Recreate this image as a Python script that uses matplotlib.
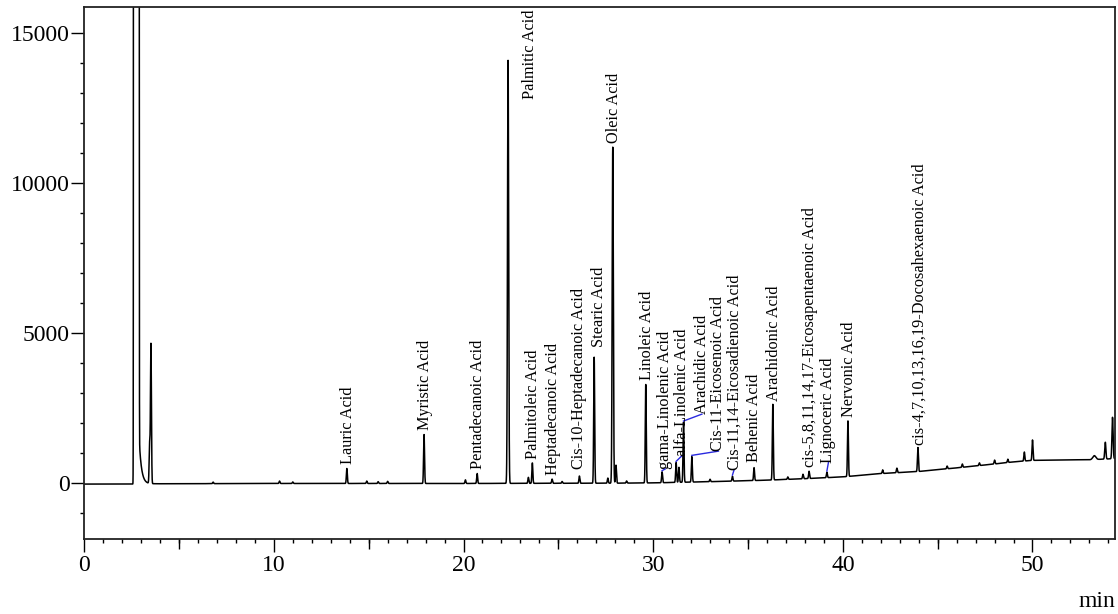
import numpy as np
import matplotlib.pyplot as plt
from matplotlib.ticker import MultipleLocator

plt.rcParams['font.family'] = 'Liberation Serif'

# identified FAME peaks: retention time (min) and height above baseline
names = ['Lauric Acid', 'Myristic Acid', 'Pentadecanoic Acid', 'Palmitic Acid',
         'Palmitoleic Acid', 'Heptadecanoic Acid', 'Cis-10-Heptadecanoic Acid',
         'Stearic Acid', 'Oleic Acid', 'Linoleic Acid', 'gama-Linolenic Acid',
         'alfa-Linolenic Acid', 'Arachidic Acid', 'Cis-11-Eicosenoic Acid',
         'Cis-11,14-Eicosadienoic Acid', 'Behenic Acid', 'Arachidonic Acid',
         'cis-5,8,11,14,17-Eicosapentaenoic Acid', 'Lignoceric Acid',
         'Nervonic Acid', 'cis-4,7,10,13,16,19-Docosahexaenoic Acid']
rt = [13.85, 17.92, 20.72, 22.35, 23.63, 24.67, 26.11, 26.89, 27.87, 29.61, 30.47,
      31.21, 31.60, 32.04, 34.18, 35.32, 36.31, 38.22, 39.16, 40.27, 43.96]
height = [500, 1630, 330, 14100, 680, 140, 240, 4200, 11200, 3280, 360,
          660, 2000, 850, 160, 430, 2520, 240, 180, 1850, 800]

# unlabelled peaks (solvent side peaks, impurities, column bleed)
other_rt = [3.45, 3.52, 6.8, 10.3, 11.0, 14.9, 15.5, 16.0, 20.1, 23.42, 25.2,
            27.61, 28.04, 28.6, 31.36, 33.0, 37.1, 37.9, 42.1, 42.85, 45.5,
            46.3, 47.2, 48.0, 48.7, 49.57, 50.0, 53.26, 53.84, 54.22]
other_h = [1300, 4650, 50, 80, 50, 80, 60, 70, 120, 200, 60,
           170, 600, 70, 500, 80, 80, 150, 120, 150, 90,
           110, 90, 130, 110, 300, 680, 130, 560, 1380]
other_w = [0.025] * 27 + [0.08, 0.03, 0.03]

# solvent front (off scale) and its tail
solvent_rt, solvent_h, solvent_w = 2.75, 1e12, 0.026
tail_start, tail_h, tail_tau = 2.9, 1500, 0.12

# drifting baseline
base_t = [0, 2.5, 3.6, 10, 20, 28, 30, 33, 36, 38, 40, 42, 44, 46, 48, 49, 50, 52, 53, 54.4]
base_y = [-20, -20, -10, 0, 0, 10, 20, 60, 110, 160, 220, 330, 400, 520, 650, 720, 770, 790, 790, 830]

# label placement tweaks (dx min, dy counts) for labels moved off the apex
label_shift = {
    'Palmitic Acid': (1.13, -1300), 'Stearic Acid': (0.27, 350),
    'gama-Linolenic Acid': (0.17, 100), 'alfa-Linolenic Acid': (0.31, 230),
    'Arachidic Acid': (0.97, 270), 'Cis-11-Eicosenoic Acid': (1.40, 180),
    'Cis-11,14-Eicosadienoic Acid': (0.09, 220), 'Lignoceric Acid': (0.08, 320),
    'Cis-10-Heptadecanoic Acid': (0.0, 230), 'Behenic Acid': (0.0, 200),
    'Arachidonic Acid': (0.04, 110), 'cis-4,7,10,13,16,19-Docosahexaenoic Acid': (0.1, 100),
}
blue_leader = ['gama-Linolenic Acid', 'alfa-Linolenic Acid', 'Arachidic Acid',
               'Cis-11-Eicosenoic Acid', 'Cis-11,14-Eicosadienoic Acid', 'Lignoceric Acid']

t = np.arange(0, 54.4, 0.002)
signal = np.interp(t, base_t, base_y)
for r, h in zip(rt, height):
    w = 0.03 if h > 5000 else 0.025
    signal += h * np.exp(-0.5 * ((t - r) / w) ** 2)
for r, h, w in zip(other_rt, other_h, other_w):
    signal += h * np.exp(-0.5 * ((t - r) / w) ** 2)
signal += solvent_h * np.exp(-0.5 * ((t - solvent_rt) / solvent_w) ** 2)
tail = t >= tail_start
signal[tail] += tail_h * np.exp(-(t[tail] - tail_start) / tail_tau)
signal = np.minimum(signal, 1e5)

fig = plt.figure(figsize=(11.18, 6.14), dpi=100)
ax = fig.add_axes([0.0753, 0.1217, 0.9220, 0.8673])
ax.plot(t, signal, color='black', lw=1.1)

for name, r, h in zip(names, rt, height):
    apex = np.interp(r, base_t, base_y) + h
    dx, dy = label_shift.get(name, (0.04, 140))
    lx, ly = r + dx, apex + dy
    if name in blue_leader:
        ax.plot([r, lx], [apex + 40, ly], color='#2a2ae0', lw=1.0)
    ax.text(lx, ly, name, rotation=90, ha='center', va='bottom', fontsize=11.7)

ax.set_xlim(0, 54.35)
ax.set_ylim(-1860, 15890)
ax.xaxis.set_major_locator(MultipleLocator(10))
ax.xaxis.set_minor_locator(MultipleLocator(1))
ax.yaxis.set_major_locator(MultipleLocator(5000))
ax.yaxis.set_minor_locator(MultipleLocator(1000))
ax.tick_params(which='major', direction='out', length=9.5, width=1.0, labelsize=17)
ax.tick_params(which='minor', direction='out', length=3.2, width=1.0)
ax.tick_params(axis='x', which='major', pad=2)
ax.tick_params(axis='y', which='major', pad=1)

# medium ticks every 5 min
sec = ax.secondary_xaxis('bottom')
sec.set_xticks(np.arange(5, 55, 10))
sec.tick_params(length=7, width=1.0, labelbottom=False)
sec.spines['bottom'].set_visible(False)

for s in ax.spines.values():
    s.set_linewidth(1.3)
    s.set_color('#222222')

fig.text(0.981, 0.02, 'min', fontsize=17, ha='center', va='center')

fig.savefig('out.png', dpi=100)
